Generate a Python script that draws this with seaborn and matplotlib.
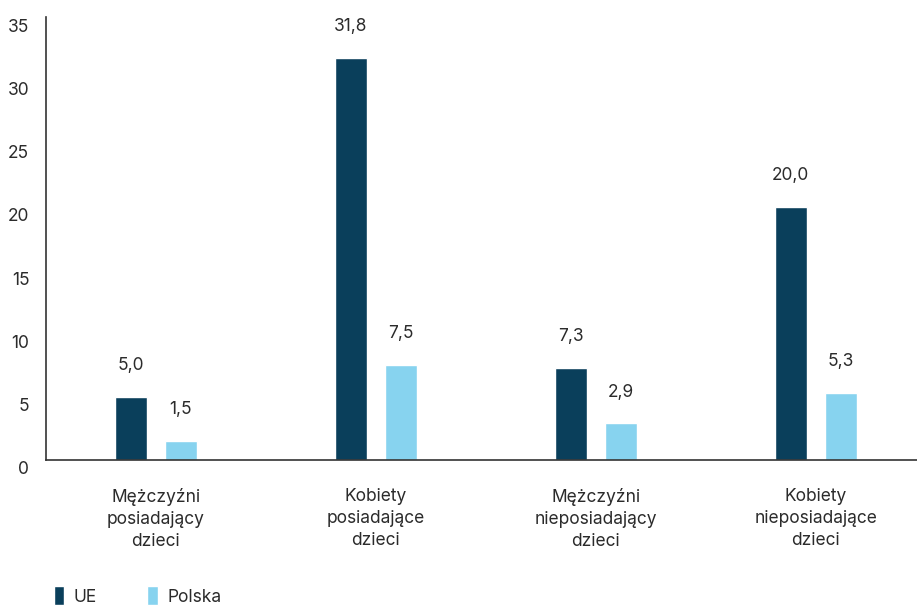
import matplotlib
matplotlib.use("Agg")
import matplotlib.pyplot as plt
import matplotlib.transforms as mtransforms
import seaborn as sns
import pandas as pd

categories = [
    "Mężczyźni\nposiadający\ndzieci",
    "Kobiety\nposiadające\ndzieci",
    "Mężczyźni\nnieposiadający\ndzieci",
    "Kobiety\nnieposiadające\ndzieci",
]
series_names = ["UE", "Polska"]
ue_values = [5.0, 31.8, 7.3, 20.0]
pl_values = [1.5, 7.5, 2.9, 5.3]
y_ticks = [0, 5, 10, 15, 20, 25, 30, 35]

colors = {"UE": "#0A3F5B", "Polska": "#87D3EF"}
text_color = "#2B2B2B"

df = pd.DataFrame({
    "kategoria": categories * 2,
    "seria": [series_names[0]] * 4 + [series_names[1]] * 4,
    "wartosc": ue_values + pl_values,
})

sns.set_theme(style="white")
plt.rcParams["font.family"] = ["Inter", "DejaVu Sans"]

fig = plt.figure(figsize=(9.17, 6.06), dpi=100)
ax = fig.add_axes([46 / 917, 1 - 460 / 606, (917 - 46) / 917, (460 - 17) / 606])

sns.barplot(data=df, x="kategoria", y="wartosc", hue="seria", order=categories,
            hue_order=series_names, palette=colors, width=0.455, gap=0.36,
            saturation=1, ax=ax, legend=True)

ax.set_xlim(-0.498, 3.46)
ax.set_ylim(0, 34.9)
ax.set_yticks(y_ticks)
ax.set_yticklabels([str(t) for t in y_ticks])
ax.set_xlabel("")
ax.set_ylabel("")

for side in ["top", "right"]:
    ax.spines[side].set_visible(False)
for side in ["left", "bottom"]:
    ax.spines[side].set_color("#333333")
    ax.spines[side].set_linewidth(1.2)

ax.tick_params(axis="y", length=0, pad=12, labelsize=12.5, labelcolor=text_color)
ax.tick_params(axis="x", length=0, pad=20, labelsize=12.5, labelcolor=text_color)
for lbl in ax.get_xticklabels():
    lbl.set_linespacing(1.4)

# nudge y tick labels slightly downward
shift = mtransforms.ScaledTranslation(0, -8 / 100, fig.dpi_scale_trans)
for lbl in ax.get_yticklabels():
    lbl.set_transform(lbl.get_transform() + shift)

# value labels above bars
for container in ax.containers:
    labels = [f"{v:.1f}".replace(".", ",") for v in container.datavalues]
    for rect, text in zip(container, labels):
        ax.annotate(text, (rect.get_x() + rect.get_width() / 2, rect.get_height()),
                    xytext=(0, 22.5), textcoords="offset points",
                    ha="center", va="center", fontsize=12.5, color=text_color)

handles, labels = ax.get_legend_handles_labels()
ax.get_legend().remove()
fig.legend(handles, labels, loc="center left",
           bbox_to_anchor=(38 / 917, 1 - 596 / 606), frameon=False,
           ncol=2, handlelength=0.6, handleheight=1.3, handletextpad=0.55,
           columnspacing=2.9, fontsize=12.5, labelcolor=text_color)

fig.savefig("out.png", dpi=100)
